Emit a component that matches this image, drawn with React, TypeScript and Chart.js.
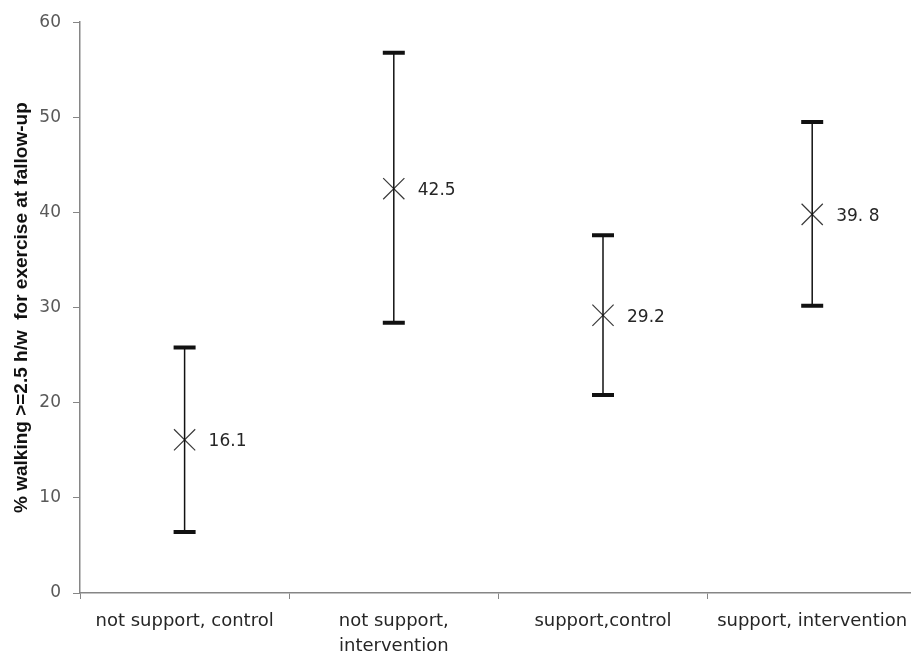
import React, { useEffect, useRef } from "react";
import { Chart, registerables } from "chart.js";

Chart.register(...registerables);

const categories: (string | string[])[] = [
  "not support, control",
  ["not support,", "intervention"],
  "support,control",
  "support, intervention",
];
const meanValues = [16.1, 42.5, 29.2, 39.8];
const lowerValues = [6.4, 28.4, 20.8, 30.2];
const upperValues = [25.8, 56.8, 37.6, 49.5];
const valueLabels = ["16.1", "42.5", "29.2", "39. 8"];
const yTitle = "% walking >=2.5 h/w  for exercise at fallow-up";

const errorBarPlugin = {
  id: "errorBars",
  afterDatasetsDraw(chart: any) {
    const ctx = chart.ctx;
    const xs = chart.scales.x;
    const ys = chart.scales.y;
    ctx.save();
    for (let i = 0; i < meanValues.length; i++) {
      const x = xs.getPixelForValue(i);
      const yHi = ys.getPixelForValue(upperValues[i]);
      const yLo = ys.getPixelForValue(lowerValues[i]);
      ctx.strokeStyle = "#111111";
      ctx.lineWidth = 1.5;
      ctx.beginPath();
      ctx.moveTo(x, yHi);
      ctx.lineTo(x, yLo);
      ctx.stroke();
      ctx.lineWidth = 4;
      ctx.beginPath();
      ctx.moveTo(x - 11, yHi);
      ctx.lineTo(x + 11, yHi);
      ctx.moveTo(x - 11, yLo);
      ctx.lineTo(x + 11, yLo);
      ctx.stroke();
      const ym = ys.getPixelForValue(meanValues[i]);
      ctx.fillStyle = "#262626";
      ctx.font = "17px 'DejaVu Sans'";
      ctx.textAlign = "left";
      ctx.textBaseline = "middle";
      ctx.fillText(valueLabels[i], x + 24, ym + 2);
    }
    ctx.restore();
  },
};

export default function App() {
  const ref = useRef<HTMLCanvasElement>(null);
  useEffect(() => {
    if (!ref.current) return;
    const chart = new Chart(ref.current, {
      type: "line",
      data: {
        labels: categories,
        datasets: [
          {
            data: meanValues,
            showLine: false,
            pointStyle: "crossRot",
            pointRadius: 15,
            pointBorderWidth: 1.2,
            borderColor: "#3a3a3a",
            backgroundColor: "#3a3a3a",
          },
        ],
      },
      options: {
        animation: false,
        responsive: false,
        maintainAspectRatio: false,
        layout: { padding: { top: 19, right: 0, left: 0, bottom: 0 } },
        plugins: { legend: { display: false }, tooltip: { enabled: false } },
        scales: {
          x: {
            type: "category",
            offset: true,
            grid: { offset: true, drawOnChartArea: false, tickLength: 6, color: "#868686" },
            border: { color: "#868686", width: 1.5 },
            ticks: {
              color: "#262626",
              font: { family: "'DejaVu Sans'", size: 18, lineHeight: 1.4 },
              padding: 10,
              autoSkip: false,
              maxRotation: 0,
            },
            afterFit: (s: any) => {
              s.height = 62;
              s.paddingLeft = 0;
              s.paddingRight = 0;
            },
          },
          y: {
            min: 0,
            max: 60,
            ticks: {
              stepSize: 10,
              color: "#595959",
              font: { family: "'DejaVu Sans'", size: 17 },
              padding: 12,
            },
            grid: { drawOnChartArea: false, tickLength: 7, color: "#868686" },
            border: { color: "#868686", width: 1.5 },
            title: {
              display: true,
              text: yTitle,
              color: "#111111",
              font: { family: "'Liberation Sans Narrow', 'Liberation Sans'", size: 19, weight: "bold" },
              padding: { top: 10, bottom: 0 },
            },
            afterFit: (s: any) => {
              s.width = 80;
            },
          },
        },
      },
      plugins: [errorBarPlugin],
    });
    return () => chart.destroy();
  }, []);
  return (
    <div style={{ position: "fixed", left: 0, top: 0, width: 911, height: 655, overflow: "hidden", background: "#fff" }}>
      <canvas ref={ref} width={933} height={655} style={{ display: "block", width: 933, height: 655 }} />
    </div>
  );
}
